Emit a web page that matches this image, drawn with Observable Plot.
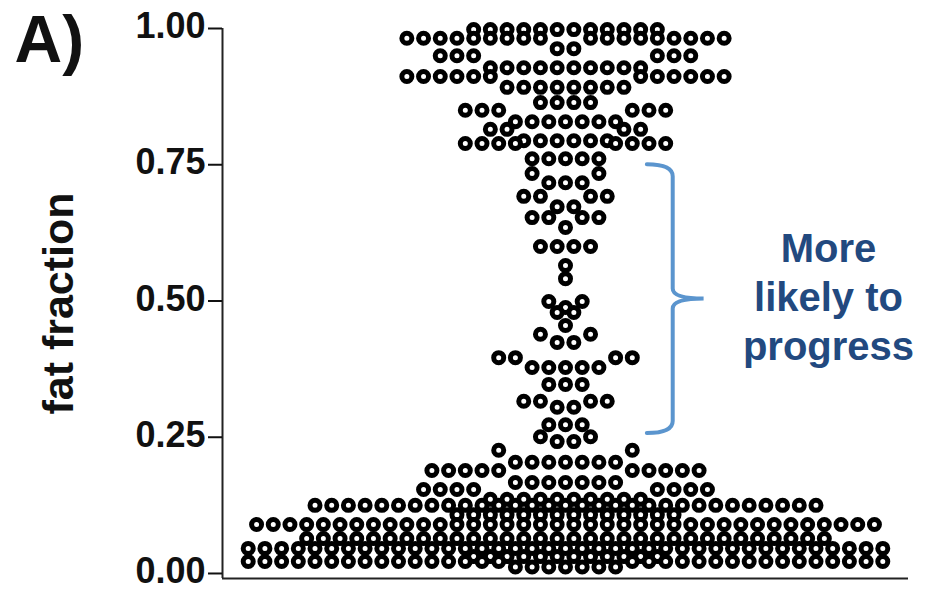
<!DOCTYPE html>
<html><head><meta charset="utf-8">
<script src="https://cdn.jsdelivr.net/npm/d3@7"></script>
<script src="https://cdn.jsdelivr.net/npm/@observablehq/plot@0.6"></script>
<style>
html,body{margin:0;padding:0;background:#fff}
#chart{width:934px;height:590px}
#chart svg text{font-weight:bold}
</style>
</head><body><div id="chart"></div>
<script>
// ---- data: beeswarm rows (fat fraction of row, number of dots,
//      fat fraction of the sagging centre dots, number of centre dots) ----
const rowY  = [0.998,0.982,0.950,0.912,0.864,0.850,0.815,0.789,0.734,0.692,0.653,0.600,0.565,0.541,0.499,0.479,0.455,0.439,0.396,0.347,0.316,0.273,0.251,0.226,0.189,0.154,0.125,0.108,0.090,0.064,0.046,0.031,0.022];
const rowN  = [12,   20,   16,   20,   4,    13,   10,   13,   5,    6,    5,    4,    1,    1,    3,    2,    1,    4,    9,    3,    6,    3,    4,    9,    17,   18,   31,   14,   38,   32,   39,   12,   39];
const rowYc = [0.998,0.963,0.928,0.892,0.864,0.829,0.794,0.761,0.717,0.673,0.635,0.600,0.565,0.541,0.488,0.479,0.455,0.424,0.378,0.347,0.305,0.273,0.242,0.204,0.167,0.136,0.125,0.108,0.090,0.064,0.046,0.031,0.012];
const rowNc = [0,    2,    10,   8,    0,    7,    6,    5,    3,    2,    1,    0,    0,    0,    1,    0,    0,    2,    5,    0,    2,    0,    2,    7,    7,    10,   0,    0,    0,    0,    0,    0,    7];

const yTicks = [0, 0.25, 0.5, 0.75, 1];
const yTickLabels = ["0.00", "0.25", "0.50", "0.75", "1.00"];
const yLabel = "fat fraction";
const panelLabel = "A)";
const noteLines = ["More", "likely to", "progress"];
const noteRange = [0.257, 0.750];   // bracketed fat-fraction range

// ---- build dots: each row is stacked side by side, centred ----
const points = [];
rowY.forEach((y, i) => {
  const n = rowN[i], nc = rowNc[i];
  for (let k = 0; k < n; k++) {
    const slot = k - (n - 1) / 2;
    const centre = k >= (n - nc) / 2 && k < (n + nc) / 2;
    points.push({slot, fat: centre ? rowYc[i] : y});
  }
});

const xSpan = 20.54;
const yMin = -0.0092;

// curly bracket drawn through the plot's own scales
function brace(index, scales) {
  const {x, y} = scales;
  const xL = x(4.9), xM = x(6.45), xT = x(8.3);
  const yT = y(noteRange[1]), yB = y(noteRange[0]), yC = y((noteRange[0] + noteRange[1]) / 2);
  const p = d3.path();
  p.moveTo(xL, yT);
  p.quadraticCurveTo(xM, yT, xM, yT + 12);
  p.lineTo(xM, yC - 10);
  p.quadraticCurveTo(xM, yC, xT, yC);
  p.quadraticCurveTo(xM, yC, xM, yC + 10);
  p.lineTo(xM, yB - 12);
  p.quadraticCurveTo(xM, yB, xL, yB);
  const el = document.createElementNS("http://www.w3.org/2000/svg", "path");
  el.setAttribute("d", p.toString());
  el.setAttribute("fill", "none");
  el.setAttribute("stroke", "#5B95CE");
  el.setAttribute("stroke-width", 4);
  el.setAttribute("stroke-linecap", "round");
  return el;
}

const chart = Plot.plot({
  width: 934, height: 590,
  marginLeft: 222, marginRight: 26, marginTop: 28, marginBottom: 12,
  x: {domain: [-xSpan, xSpan], axis: null},
  y: {domain: [yMin, 1], axis: null},
  style: {fontFamily: "'Liberation Sans', Arial, Helvetica, sans-serif", background: "white", color: "#111"},
  marks: [
    Plot.ruleY([yMin], {x1: -xSpan, x2: xSpan, stroke: "#222", strokeWidth: 2}),
    Plot.ruleX([-xSpan], {y1: yMin, y2: 1, stroke: "#222", strokeWidth: 2}),
    // tick marks
    Plot.axisY({ticks: yTicks, tickFormat: () => "", tickSize: 14, strokeWidth: 2, label: null}),
    // tick labels (nudged so the bottom label stays inside the picture)
    Plot.axisY({ticks: yTicks, tickFormat: d => yTickLabels[yTicks.indexOf(d)], tickSize: 0, tickPadding: 17, fontSize: 36, dy: -2, label: null}),
    Plot.dot(points, {x: "slot", y: "fat", r: 5, stroke: "black", strokeWidth: 5, fill: "white"}),
    brace,
    Plot.text([noteLines.join("\n")], {x: 15.75, y: 0.51, fontSize: 40, lineHeight: 1.22, fill: "#22497F", textAnchor: "middle"}),
    Plot.text([yLabel], {frameAnchor: "left", dx: -163, rotate: -90, textAnchor: "middle", fontSize: 43, fill: "#111"}),
    Plot.text([panelLabel], {frameAnchor: "top-left", dx: -208, dy: -13, fontSize: 66, fill: "#111"})
  ]
});
document.getElementById("chart").appendChild(chart);
</script>
</body></html>
